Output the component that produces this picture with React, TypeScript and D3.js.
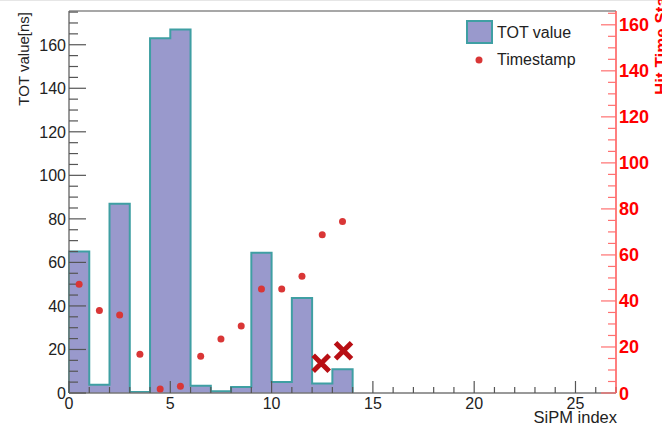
import React, { useRef, useEffect } from 'react';
import * as d3 from 'd3';

// TOT value per SiPM bin (bins 0..26), left axis
const totValues = [65, 3.8, 87, 0.5, 163, 167, 3.3, 0.8, 2.8, 64.4, 5.1, 43.7, 4.4, 10.9,
  0, 0, 0, 0, 0, 0, 0, 0, 0, 0, 0, 0, 0];
// timestamps at bin centres, right axis
const stampIndex = [0.5, 1.5, 2.5, 3.5, 4.5, 5.5, 6.5, 7.5, 8.5, 9.5, 10.5, 11.5, 12.5, 13.5];
const stampValues = [47.3, 35.8, 33.9, 16.8, 1.7, 2.9, 16.0, 23.5, 29.1, 45.2, 45.2, 50.7, 68.8, 74.5];
// crossed-out hits
const crossIndex = [12.45, 13.55];
const crossValues = [12.9, 18.4];

const xTicks = [0, 5, 10, 15, 20, 25];
const leftTicks = [0, 20, 40, 60, 80, 100, 120, 140, 160];
const rightTicks = [0, 20, 40, 60, 80, 100, 120, 140, 160];

const W = 662;
const H = 426;

export default function App() {
  const svgRef = useRef<SVGSVGElement>(null);

  useEffect(() => {
    if (!svgRef.current) return;
    const svg = d3.select(svgRef.current);
    svg.selectAll('*').remove();

    const left = 69, right = 616, top = 11, bottom = 393;
    const font = '"Liberation Sans", Arial, sans-serif';

    const x = d3.scaleLinear().domain([0, 27]).range([left, right]);
    const yL = d3.scaleLinear().domain([0, 175.5]).range([bottom, top]);
    const yR = d3.scaleLinear().domain([0, 166]).range([bottom, top]);

    svg.append('rect').attr('width', W).attr('height', H).attr('fill', '#fff');
    svg.append('line').attr('x1', 0).attr('x2', W).attr('y1', 0.5).attr('y2', 0.5)
      .attr('stroke', '#e6e6e6');

    // histogram
    const n = totValues.length;
    const pts: [number, number][] = [[0, 0]];
    totValues.forEach((v, i) => pts.push([i, v]));
    pts.push([n, totValues[n - 1]]);
    pts.push([n, 0]);

    const area = d3.area<[number, number]>()
      .x(d => x(d[0])).y0(yL(0)).y1(d => yL(d[1]))
      .curve(d3.curveStepAfter);
    svg.append('path').datum(pts.slice(1, -1)).attr('d', area)
      .attr('fill', '#9999cc');

    const line = d3.line<[number, number]>()
      .x(d => x(d[0])).y(d => yL(d[1]))
      .curve(d3.curveStepAfter);
    svg.append('path').datum(pts.slice(0, 16).concat([[14, 0]])).attr('d', line)
      .attr('fill', 'none').attr('stroke', '#3f9fa3').attr('stroke-width', 2);

    // frame
    svg.append('line').attr('x1', left).attr('x2', right).attr('y1', top).attr('y2', top)
      .attr('stroke', '#8a8a8a').attr('stroke-width', 1.5);
    svg.append('line').attr('x1', left).attr('x2', left).attr('y1', top).attr('y2', bottom)
      .attr('stroke', '#777').attr('stroke-width', 1.5);
    svg.append('line').attr('x1', left).attr('x2', right).attr('y1', bottom).attr('y2', bottom)
      .attr('stroke', '#777').attr('stroke-width', 1.5);

    // x axis ticks
    d3.range(0, 28).forEach(t => {
      const major = t % 5 === 0;
      svg.append('line').attr('x1', x(t)).attr('x2', x(t))
        .attr('y1', bottom).attr('y2', bottom - (major ? 12 : 6))
        .attr('stroke', '#555').attr('stroke-width', 1.2);
    });
    xTicks.forEach(t => {
      svg.append('text').attr('x', x(t)).attr('y', 409)
        .attr('text-anchor', 'middle').attr('font-family', font).attr('font-size', 16)
        .attr('fill', '#222').text(t);
    });
    svg.append('text').attr('x', right + 1).attr('y', 423)
      .attr('text-anchor', 'end').attr('font-family', font).attr('font-size', 16.5)
      .attr('fill', '#222').text('SiPM index');

    // left axis
    d3.range(0, 176, 5).forEach(t => {
      const major = t % 20 === 0;
      svg.append('line').attr('x1', left).attr('x2', left + (major ? 17 : 9))
        .attr('y1', yL(t)).attr('y2', yL(t))
        .attr('stroke', '#555').attr('stroke-width', 1.2);
    });
    leftTicks.forEach(t => {
      svg.append('text').attr('x', 66).attr('y', yL(t) + 6)
        .attr('text-anchor', 'end').attr('font-family', font).attr('font-size', 16)
        .attr('fill', '#222').text(t);
    });
    svg.append('text').attr('transform', `translate(29,12) rotate(-90)`)
      .attr('text-anchor', 'end').attr('font-family', font).attr('font-size', 15)
      .attr('fill', '#222').text('TOT value[ns]');

    // right axis
    svg.append('line').attr('x1', right).attr('x2', right).attr('y1', top).attr('y2', bottom)
      .attr('stroke', '#ff5555').attr('stroke-width', 1.5);
    d3.range(0, 166, 5).forEach(t => {
      const major = t % 20 === 0;
      svg.append('line').attr('x1', right).attr('x2', right - (major ? 15 : 8))
        .attr('y1', yR(t)).attr('y2', yR(t))
        .attr('stroke', '#ff7070').attr('stroke-width', 1.2);
    });
    rightTicks.forEach(t => {
      svg.append('text').attr('x', 619).attr('y', yR(t) + 6.5)
        .attr('font-family', font).attr('font-size', 18).attr('font-weight', 'bold')
        .attr('fill', '#ff0000').text(t);
    });
    svg.append('text').attr('transform', `translate(667,95) rotate(-90)`)
      .attr('font-family', font).attr('font-size', 17).attr('font-weight', 'bold')
      .attr('fill', '#ff0000').text('Hit Time Stamp [ns]');

    // timestamps
    stampIndex.forEach((v, i) => {
      svg.append('circle').attr('cx', x(v)).attr('cy', yR(stampValues[i]))
        .attr('r', 3.5).attr('fill', '#d93636');
    });

    // crosses
    crossIndex.forEach((v, i) => {
      const cx = x(v), cy = yR(crossValues[i]), s = 8;
      svg.append('path')
        .attr('d', `M${cx - s},${cy - s}L${cx + s},${cy + s}M${cx - s},${cy + s}L${cx + s},${cy - s}`)
        .attr('stroke', '#b80f14').attr('stroke-width', 5).attr('fill', 'none');
    });

    // legend
    svg.append('rect').attr('x', 467).attr('y', 21).attr('width', 25).attr('height', 22)
      .attr('fill', '#9999cc').attr('stroke', '#3f9fa3').attr('stroke-width', 2);
    svg.append('text').attr('x', 497).attr('y', 38).attr('font-family', font)
      .attr('font-size', 16).attr('fill', '#222').text('TOT value');
    svg.append('circle').attr('cx', 479).attr('cy', 60).attr('r', 3.5).attr('fill', '#d93636');
    svg.append('text').attr('x', 497).attr('y', 65).attr('font-family', font)
      .attr('font-size', 16).attr('fill', '#222').text('Timestamp');
  }, []);

  return (
    <div style={{ position: 'fixed', left: 0, top: 0 }}>
      <svg ref={svgRef} width={W} height={H} style={{ display: 'block' }} />
    </div>
  );
}
